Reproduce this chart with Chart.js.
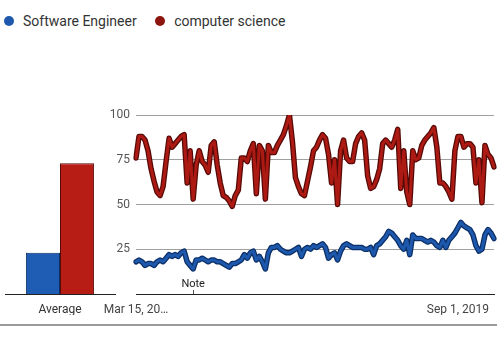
<!DOCTYPE html>
<html>
<head>
<meta charset="utf-8">
<script src="https://cdn.jsdelivr.net/npm/chart.js@4.4.1/dist/chart.umd.min.js"></script>
<style>
  html, body { margin: 0; padding: 0; background: #fff; }
  body { width: 497px; height: 341px; position: relative; overflow: hidden; font-family: Roboto, 'Noto Sans', sans-serif; }
  .leyenda { position: absolute; top: 13px; left: 4px; font-size: 14px; color: #333; white-space: nowrap; }
  .leyenda span.item { display: inline-flex; align-items: center; margin-right: 15px; }
  .leyenda i { display: inline-block; width: 10px; height: 10px; border-radius: 50%; margin-right: 9px; }
  #cajaBarras { position: absolute; left: 0; top: 100px; width: 120px; height: 215px; }
  #cajaLineas { position: absolute; left: 100px; top: 100px; width: 397px; height: 215px; }
  .separador { position: absolute; left: 0; top: 324px; width: 497px; height: 2px; background: #9a9a9a; }
</style>
</head>
<body>

<div class="leyenda">
  <span class="item"><i id="dotAzul"></i><span id="txtAzul"></span></span>
  <span class="item"><i id="dotRojo"></i><span id="txtRojo"></span></span>
</div>
<div id="cajaBarras"><canvas id="graficaPromedio"></canvas></div>
<div id="cajaLineas"><canvas id="graficaTendencia"></canvas></div>
<div class="separador"></div>

<script>
// ── Datos ───────────────────────────────────────────────────────────────────
const series = ['Software Engineer', 'computer science'];
const promedios = [23, 73];
const categoriaPromedio = ['Average'];

const softwareEngineer = [
  18, 19, 18, 16, 17, 17, 16, 18, 19, 18, 20, 22, 21, 22, 21, 23, 24, 18, 16, 14,
  19, 19, 20, 19, 18, 19, 19, 18, 18, 17, 16, 15, 17, 17, 18, 19, 22, 20, 23, 24,
  19, 21, 18, 14, 23, 26, 26, 27, 25, 24, 23, 23, 24, 25, 26, 21, 25, 26, 25, 27,
  26, 27, 28, 26, 20, 22, 23, 19, 24, 27, 28, 27, 26, 26, 26, 26, 25, 25, 26, 22,
  27, 28, 30, 32, 35, 34, 32, 30, 27, 25, 30, 22, 33, 31, 31, 31, 30, 29, 30, 29,
  27, 26, 30, 26, 30, 32, 34, 37, 40, 38, 37, 36, 33, 27, 24, 25, 33, 36, 34, 31
];

const computerScience = [
  76, 88, 88, 86, 80, 70, 63, 57, 55, 60, 74, 87, 82, 84, 86, 88, 89, 62, 80, 53,
  72, 80, 74, 72, 68, 83, 85, 72, 62, 55, 54, 52, 49, 55, 58, 76, 76, 74, 80, 84,
  56, 83, 80, 53, 83, 79, 79, 83, 86, 89, 94, 100, 85, 65, 60, 56, 55, 63, 71, 80,
  82, 86, 89, 87, 78, 62, 75, 50, 80, 86, 76, 74, 74, 84, 88, 90, 86, 66, 59, 60,
  64, 70, 84, 86, 84, 82, 86, 92, 59, 80, 57, 50, 80, 75, 76, 83, 86, 88, 90, 93,
  82, 62, 62, 60, 57, 53, 80, 88, 88, 82, 84, 84, 82, 62, 75, 51, 83, 78, 76, 71
];

// posiciones (índices) de las etiquetas del eje x y su texto
const indicesTicks = [0, 107];
const textosTicks = ['Mar 15, 20…', 'Sep 1, 2019'];
const indiceNota = 19;
const textoNota = 'Note';

const ticksY = [25, 50, 75, 100];

// ── Colores ─────────────────────────────────────────────────────────────────
const azul = '#1d58ad';
const azulOscuro = '#0b2f66';
const rojo = '#ad1a13';
const rojoOscuro = '#560a07';

document.getElementById('dotAzul').style.background = azul;
document.getElementById('dotRojo').style.background = '#8e1410';
document.getElementById('txtAzul').textContent = series[0];
document.getElementById('txtRojo').textContent = series[1];

const fuente = { family: 'Roboto, sans-serif', size: 12 };

// ── Gráfica de promedios ────────────────────────────────────────────────────
new Chart(document.getElementById('graficaPromedio'), {
  type: 'bar',
  data: {
    labels: categoriaPromedio,
    datasets: [
      { label: series[0], data: [promedios[0]], backgroundColor: '#1f5cb4', borderColor: azulOscuro, borderWidth: 1, barPercentage: 1, categoryPercentage: 0.62 },
      { label: series[1], data: [promedios[1]], backgroundColor: '#b81d15', borderColor: rojoOscuro, borderWidth: 1, barPercentage: 1, categoryPercentage: 0.62 },
    ],
  },
  options: {
    responsive: true,
    maintainAspectRatio: false,
    animation: false,
    layout: { padding: { top: 15, left: 5, right: 5, bottom: 0 } },
    plugins: { legend: { display: false }, tooltip: { enabled: false } },
    scales: {
      x: {
        grid: { display: false },
        border: { display: true, color: '#222', width: 1 },
        ticks: { color: '#333', font: fuente, padding: 1, maxRotation: 0 },
        afterFit: s => { s.height = 21; },
      },
      y: {
        display: false,
        min: 0,
        max: 100,
      },
    },
  },
});

// ── Plugin: anotación "Note" ────────────────────────────────────────────────
const pluginNota = {
  id: 'nota',
  afterDraw(chart) {
    const { ctx, scales: { x }, chartArea } = chart;
    const px = x.getPixelForValue(indiceNota);
    ctx.save();
    ctx.strokeStyle = '#555';
    ctx.lineWidth = 1;
    ctx.beginPath();
    ctx.moveTo(Math.round(px) + 0.5, chartArea.bottom - 4);
    ctx.lineTo(Math.round(px) + 0.5, chartArea.bottom);
    ctx.stroke();
    ctx.fillStyle = '#222';
    ctx.font = '11px Roboto, sans-serif';
    ctx.textAlign = 'center';
    ctx.textBaseline = 'bottom';
    ctx.fillText(textoNota, px, chartArea.bottom - 4);
    ctx.restore();
  },
};

// ── Gráfica de tendencia ────────────────────────────────────────────────────
const etiquetas = computerScience.map((_, i) => i);

function linea(datos, color, ancho, orden) {
  return {
    data: datos,
    borderColor: color,
    borderWidth: ancho,
    pointRadius: 0,
    tension: 0,
    fill: false,
    borderJoinStyle: 'round',
    borderCapStyle: 'round',
    order: orden,
  };
}

new Chart(document.getElementById('graficaTendencia'), {
  type: 'line',
  data: {
    labels: etiquetas,
    datasets: [
      linea(softwareEngineer, azulOscuro, 5.5, 4),
      linea(computerScience, rojoOscuro, 5.5, 3),
      linea(softwareEngineer, azul, 3, 2),
      linea(computerScience, rojo, 3, 1),
    ],
  },
  options: {
    responsive: true,
    maintainAspectRatio: false,
    animation: false,
    layout: { padding: { top: 15, right: 3, left: 0, bottom: 0 } },
    plugins: { legend: { display: false }, tooltip: { enabled: false } },
    scales: {
      x: {
        type: 'category',
        grid: { display: false },
        border: { display: true, color: '#222', width: 1 },
        ticks: {
          autoSkip: false,
          maxRotation: 0,
          color: '#444',
          font: fuente,
          padding: 1,
          callback: (val, i) => {
            const k = indicesTicks.indexOf(i);
            return k >= 0 ? textosTicks[k] : '';
          },
        },
        afterFit: s => { s.height = 21; },
      },
      y: {
        min: 0,
        max: 100,
        afterBuildTicks: s => { s.ticks = [0, ...ticksY].map(v => ({ value: v })); },
        grid: {
          color: c => (c.tick && c.tick.value === 0 ? 'rgba(0,0,0,0)' : '#a0a0a0'),
          drawTicks: false,
        },
        border: { display: false },
        ticks: {
          color: '#555',
          font: fuente,
          padding: 6,
          callback: v => (v === 0 ? '' : v),
        },
        afterFit: s => { s.width = 36; },
      },
    },
  },
  plugins: [pluginNota],
});
</script>
</body>
</html>
